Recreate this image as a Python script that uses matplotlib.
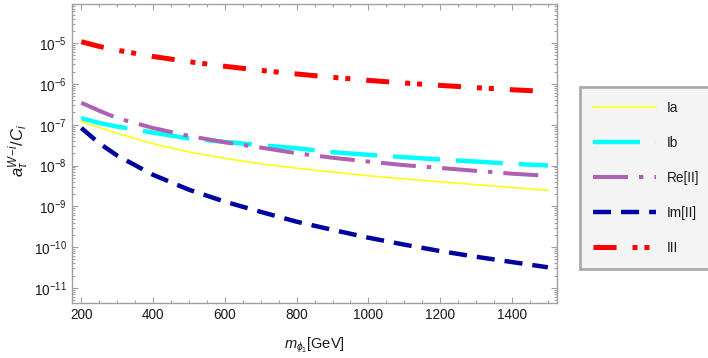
import matplotlib
matplotlib.use("Agg")
import matplotlib.pyplot as plt
import matplotlib.ticker as mticker

plt.rcParams['font.family'] = ['Liberation Sans', 'DejaVu Sans']
plt.rcParams['mathtext.fontset'] = 'custom'
plt.rcParams['mathtext.rm'] = 'Liberation Sans'
plt.rcParams['mathtext.it'] = 'Liberation Sans:italic'
plt.rcParams['mathtext.bf'] = 'Liberation Sans:bold'
plt.rcParams['lines.scale_dashes'] = False

# mass of phi_1 in GeV
m_phi = [200, 250, 300, 400, 500, 600, 700, 800, 900, 1000, 1100, 1200, 1300, 1400, 1500]

# values
ia = [1.2e-7, 8.5e-8, 6.2e-8, 3.4e-8, 2.15e-8, 1.5e-8, 1.1e-8, 8.6e-9, 6.9e-9,
      5.6e-9, 4.7e-9, 4.0e-9, 3.4e-9, 2.9e-9, 2.45e-9]
ib = [1.45e-7, 1.1e-7, 9.0e-8, 6.4e-8, 4.6e-8, 3.8e-8, 3.15e-8, 2.65e-8, 2.12e-8,
      1.83e-8, 1.6e-8, 1.4e-8, 1.25e-8, 1.1e-8, 1.0e-8]
re_ii = [3.45e-7, 2.2e-7, 1.45e-7, 8.3e-8, 5.3e-8, 3.7e-8, 2.75e-8, 2.0e-8, 1.55e-8,
         1.25e-8, 1.02e-8, 8.7e-9, 7.4e-9, 6.3e-9, 5.6e-9]
im_ii = [8.3e-8, 3.5e-8, 1.75e-8, 5.9e-9, 2.55e-9, 1.3e-9, 7.3e-10, 4.2e-10, 2.65e-10,
         1.7e-10, 1.15e-10, 8.0e-11, 5.8e-11, 4.3e-11, 3.2e-11]
iii = [1.08e-5, 8.3e-6, 6.7e-6, 4.7e-6, 3.5e-6, 2.7e-6, 2.15e-6, 1.75e-6, 1.45e-6,
       1.22e-6, 1.05e-6, 9.2e-7, 8.1e-7, 7.2e-7, 6.5e-7]

labels = ['Ia', 'Ib', 'Re[II]', 'Im[II]', 'III']
y_major = [1e-11, 1e-10, 1e-9, 1e-8, 1e-7, 1e-6, 1e-5]

fig = plt.figure(figsize=(7.08, 3.58), dpi=100)
ax = fig.add_axes([0.1017, 0.1536, 0.6853, 0.8354])

ax.plot(m_phi, ia, color='#ffff00', lw=1.1, label=labels[0])
ax.plot(m_phi, ib, color='#00ffff', lw=3.2, dashes=(33.8, 11.5), label=labels[1])
ax.plot(m_phi, re_ii, color='#b060b0', lw=2.9, dashes=(25.2, 7.9, 3.2, 7.9), label=labels[2])
ax.plot(m_phi, im_ii, color='#0000a0', lw=3.2, dashes=(13, 7.2), label=labels[3])
ax.plot(m_phi, iii, color='#ff0000', lw=3.6, dashes=(16.6, 11.5, 3.6, 5, 3.6, 11.5), label=labels[4])

ax.set_yscale('log')
ax.set_xlim(174, 1526)
ax.set_ylim(10**-11.37, 10**-4.04)

ax.xaxis.set_major_locator(mticker.MultipleLocator(200))
ax.xaxis.set_minor_locator(mticker.MultipleLocator(50))
ax.yaxis.set_major_locator(mticker.FixedLocator(y_major))
ax.yaxis.set_major_formatter(mticker.LogFormatterSciNotation())
ax.yaxis.set_minor_locator(mticker.LogLocator(base=10, subs=range(2, 10), numticks=20))
ax.yaxis.set_minor_formatter(mticker.NullFormatter())

frame_col = '#a0a0a0'
for s in ax.spines.values():
    s.set_color(frame_col)
    s.set_linewidth(1.0)
ax.tick_params(which='both', direction='in', top=True, right=True, colors=frame_col,
               labelcolor='#1a1a1a', labelsize=9.8, width=0.8)
ax.tick_params(which='major', length=4)
ax.tick_params(which='minor', length=2)

ax.set_xlabel(r'$m_{\phi_1}$[GeV]', fontsize=10.5, color='#1a1a1a', labelpad=10)
fig.text(0.027, 0.58, r'$a_{\tau}^{W\!-\!i}/C_i$', rotation=90, fontsize=12,
         color='#1a1a1a', ha='center', va='center')

leg = ax.legend(loc='center left', bbox_to_anchor=(0.819, 0.503),
                bbox_transform=fig.transFigure, borderaxespad=0, fontsize=9.8,
                handlelength=4.6, handletextpad=0.8, labelspacing=1.55,
                borderpad=1.0, fancybox=False, framealpha=1)
leg.get_frame().set_facecolor('#f4f4f4')
leg.get_frame().set_edgecolor('#aaaaaa')
leg.get_frame().set_linewidth(2)
for t in leg.get_texts():
    t.set_color('#1a1a1a')

fig.savefig('out.png', dpi=100)
